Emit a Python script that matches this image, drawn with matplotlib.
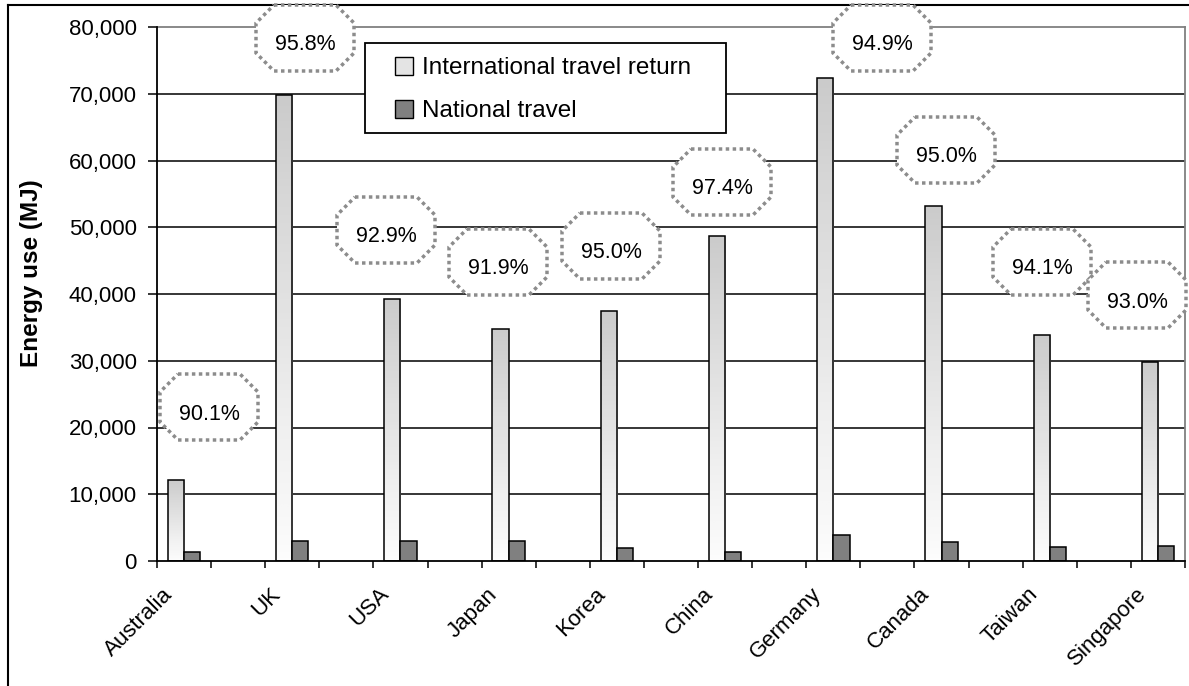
import matplotlib.pyplot as plt
import numpy as np
from matplotlib.patches import Polygon, Rectangle
from matplotlib.lines import Line2D
from matplotlib.transforms import ScaledTranslation

plt.rcParams['font.family'] = ['Liberation Sans', 'DejaVu Sans']

countries = ['Australia', 'UK', 'USA', 'Japan', 'Korea', 'China',
             'Germany', 'Canada', 'Taiwan', 'Singapore']
international = [12200, 69800, 39200, 34800, 37500, 48700, 72400, 53200, 33900, 29800]
national = [1350, 3000, 3000, 3050, 2000, 1300, 3900, 2800, 2100, 2250]
shares = ['90.1%', '95.8%', '92.9%', '91.9%', '95.0%', '97.4%', '94.9%', '95.0%', '94.1%', '93.0%']
yticks = [0, 10000, 20000, 30000, 40000, 50000, 60000, 70000, 80000]

# callout boxes, pixel centres (x, y from top)
callout_pos = [(209, 407), (305, 38), (386, 230), (498, 262), (611, 246),
               (722, 182), (882, 38), (946, 150), (1042, 262), (1137, 295)]

W, H = 1189, 686
fig = plt.figure(figsize=(W / 100, H / 100), dpi=100)
ax = fig.add_axes([157 / W, 1 - 561 / H, (1185 - 157) / W, (561 - 27) / H])

x = np.arange(len(countries)) * 2
bw = 0.3

# international bars with vertical gradient
bars = ax.bar(x - bw / 2, international, width=bw, facecolor='none',
              edgecolor='black', linewidth=1.1, zorder=3)
grad = np.linspace(0, 1, 256).reshape(-1, 1) ** 0.8
for b in bars:
    x0, y0 = b.get_x(), b.get_y()
    im = ax.imshow(grad, cmap='Greys', vmin=-0.05, vmax=3.3, aspect='auto',
                   extent=(x0, x0 + b.get_width(), y0, y0 + b.get_height()),
                   origin='lower', zorder=2)
    im.set_clip_path(b)

ax.bar(x + bw / 2, national, width=bw, color='#808080', edgecolor='black',
       linewidth=1.1, zorder=3)

ax.set_xlim(-0.5, x[-1] + 0.5)
ax.set_ylim(0, 80000)
ax.set_xticks(np.arange(-0.5, x[-1] + 1, 1))
ax.set_xticklabels([])
ax.tick_params(axis='x', length=5, width=1.1, direction='out')

# rotated category labels
off = ax.get_xaxis_transform() + ScaledTranslation(-11 / 100, -34 / 100, fig.dpi_scale_trans)
for xi, name in zip(x, countries):
    ax.text(xi, 0, name, transform=off, rotation=45, ha='right', va='baseline',
            rotation_mode='anchor', fontsize=16)

ax.set_yticks(yticks)
ax.set_yticklabels([f'{v:,}' for v in yticks], fontsize=16)
ax.tick_params(axis='y', length=6.5, width=1.1, pad=8)

for v in yticks[1:-1]:
    ax.axhline(v, color='black', linewidth=1.1, zorder=1)

for s in ['left', 'bottom']:
    ax.spines[s].set_linewidth(1.3)
    ax.spines[s].set_zorder(4)
for s in ['top', 'right']:
    ax.spines[s].set_color('#808080')
    ax.spines[s].set_linewidth(1.3)

fig.text(32 / W, 1 - 273 / H, 'Energy use (MJ)', rotation=90, ha='center',
         va='center', fontsize=17.5, fontweight='bold')

# legend: frame drawn separately
fig.patches.append(Rectangle((365 / W, 1 - 133 / H), (726 - 365) / W, 90 / H,
                             transform=fig.transFigure, facecolor='white',
                             edgecolor='black', linewidth=1.3, zorder=5))
handles = [Rectangle((0, 0), 1, 1, facecolor='#e4e4e4', edgecolor='black', linewidth=1),
           Rectangle((0, 0), 1, 1, facecolor='#808080', edgecolor='black', linewidth=1)]
leg = fig.legend(handles, ['International travel return', 'National travel'],
                 loc='upper left', bbox_to_anchor=(395 / W, 1 - 57 / H),
                 fontsize=17.5, frameon=False, handlelength=0.75, handleheight=0.75,
                 handletextpad=0.37, labelspacing=0.85, borderpad=0, borderaxespad=0)
leg.set_zorder(6)

# dotted octagon callouts
bw_px, bh_px, c = 98, 66, 18
for (cx, cy), label in zip(callout_pos, shares):
    l, r = cx - bw_px / 2, cx + bw_px / 2
    t, b = cy - bh_px / 2, cy + bh_px / 2
    pts = [(l + c, t), (r - c, t), (r, t + c), (r, b - c), (r - c, b),
           (l + c, b), (l, b - c), (l, t + c)]
    pts = [(px / W, 1 - py / H) for px, py in pts]
    poly = Polygon(pts, closed=True, transform=fig.transFigure, facecolor='white',
                   edgecolor='#8c8c8c', linewidth=2.5, linestyle=(0, (1, 1)),
                   zorder=7)
    poly.set_capstyle('butt')
    fig.patches.append(poly)
    fig.text(cx / W, 1 - (cy + 7) / H, label, ha='center', va='center',
             fontsize=15.5, zorder=8)

# chart area border (top and left visible)
fig.add_artist(Line2D([8 / W, 8 / W], [0, 1 - 5 / H], transform=fig.transFigure,
                      color='black', linewidth=1.5))
fig.add_artist(Line2D([8 / W, 1], [1 - 5 / H, 1 - 5 / H], transform=fig.transFigure,
                      color='black', linewidth=1.5))

fig.savefig('out.png', dpi=100)
